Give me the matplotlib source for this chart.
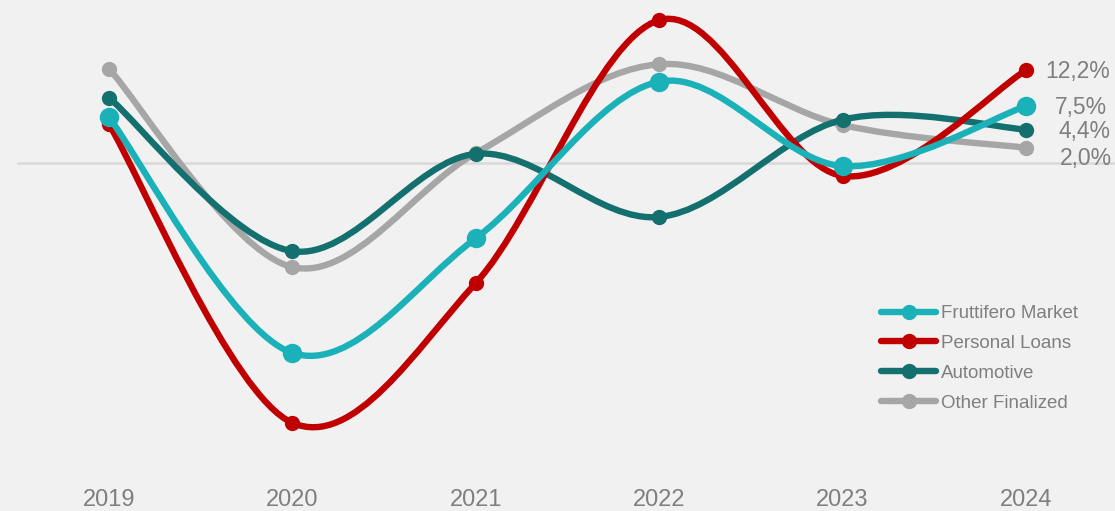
import matplotlib.pyplot as plt
import numpy as np
from matplotlib.path import Path
from matplotlib.patches import PathPatch

plt.rcParams['font.family'] = ['Liberation Sans', 'DejaVu Sans']

years = ["2019", "2020", "2021", "2022", "2023", "2024"]
fruttifero = [6.0, -25.0, -9.9, 10.7, -0.4, 7.5]
personal = [5.1, -34.2, -15.8, 18.8, -1.7, 12.2]
automotive = [8.6, -11.6, 1.2, -7.1, 5.7, 4.4]
other = [12.4, -13.7, 1.3, 13.0, 5.0, 2.0]
end_labels = ["7,5%", "12,2%", "4,4%", "2,0%"]

names = ["Fruttifero Market", "Personal Loans", "Automotive", "Other Finalized"]
colors = ["#1bb1b9", "#c00000", "#14706f", "#a6a6a6"]
msizes = [13, 10, 10, 10]
series = [fruttifero, personal, automotive, other]
# draw order: back to front
order = [3, 2, 1, 0]

bg = "#f1f1f1"
grey_txt = "#7f7f7f"


def smooth_path(x, y):
    # cubic bezier segments through the points (catmull-rom style)
    pts = np.column_stack([x, y]).astype(float)
    n = len(pts)
    verts = [pts[0]]
    codes = [Path.MOVETO]
    for i in range(n - 1):
        p0 = pts[i - 1] if i > 0 else pts[i]
        p1 = pts[i]
        p2 = pts[i + 1]
        p3 = pts[i + 2] if i + 2 < n else pts[i + 1]
        c1 = p1 + (p2 - p0) / 6.0
        c2 = p2 - (p3 - p1) / 6.0
        verts += [c1, c2, p2]
        codes += [Path.CURVE4] * 3
    return Path(verts, codes)


fig = plt.figure(figsize=(11.15, 5.11), dpi=100, facecolor=bg)
ax = fig.add_axes([0, 0, 1, 1])
ax.set_facecolor(bg)
ax.set_xlim(-0.594, 5.485)
ax.set_ylim(-45.8, 21.45)
for s in ax.spines.values():
    s.set_visible(False)
ax.set_xticks([])
ax.set_yticks([])

x = np.arange(len(years))
ax.axhline(0, xmin=18 / 1115, xmax=1, color="#d9d9d9", lw=1.8, zorder=1)

handles = {}
for k in order:
    c = colors[k]
    patch = PathPatch(smooth_path(x, series[k]), facecolor="none", edgecolor=c,
                      lw=4.6, capstyle="round", zorder=2 + (3 - k))
    ax.add_patch(patch)
    ax.plot(x, series[k], ls="none", marker="o", ms=msizes[k], color=c,
            zorder=2.5 + (3 - k))
    h, = ax.plot([], [], color=c, lw=4.6, marker="o", ms=10,
                 solid_capstyle="round")
    handles[k] = h

for i, yr in enumerate(years):
    ax.text(i, 0.022, yr, transform=ax.get_xaxis_transform(), ha="center",
            va="center", fontsize=17, color=grey_txt)

label_pos = [(5.44, 7.3), (5.46, 12.0), (5.46, 4.2), (5.47, 0.6)]
for k in range(4):
    ax.text(label_pos[k][0], label_pos[k][1], end_labels[k], ha="right",
            va="center", fontsize=16.5, color=grey_txt)

leg = ax.legend([handles[k] for k in range(4)], names, loc="upper left",
                bbox_to_anchor=(881 / 1115, 1 - 305 / 511), frameon=False,
                fontsize=13.5, labelcolor=grey_txt, handlelength=2.95,
                handletextpad=0.25, labelspacing=0.68, borderpad=0,
                borderaxespad=0)

fig.savefig("out.png", dpi=100, facecolor=bg)
